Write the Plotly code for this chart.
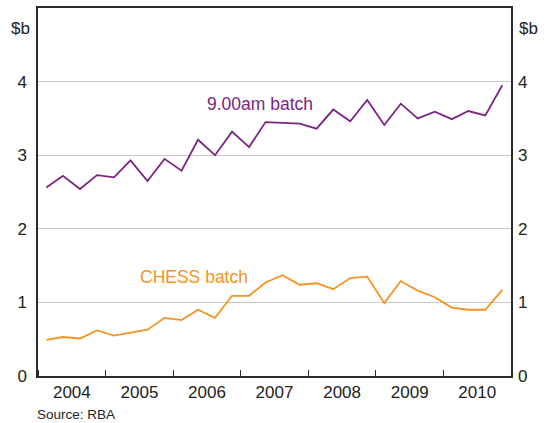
"""RBA chart: 9.00am batch vs CHESS batch settlement values."""
import plotly.graph_objects as go

PURPLE = "#7b2582"
ORANGE = "#f7931e"
FONT = "Liberation Sans, Arial, sans-serif"

# quarterly observations, plotted at mid-quarter
quarters = [
    "2004-02-15", "2004-05-15", "2004-08-15", "2004-11-15",
    "2005-02-15", "2005-05-15", "2005-08-15", "2005-11-15",
    "2006-02-15", "2006-05-15", "2006-08-15", "2006-11-15",
    "2007-02-15", "2007-05-15", "2007-08-15", "2007-11-15",
    "2008-02-15", "2008-05-15", "2008-08-15", "2008-11-15",
    "2009-02-15", "2009-05-15", "2009-08-15", "2009-11-15",
    "2010-02-15", "2010-05-15", "2010-08-15", "2010-11-15",
]
batch_9am = [
    2.56, 2.72, 2.54, 2.73, 2.70, 2.93, 2.65, 2.95, 2.79, 3.21,
    3.00, 3.32, 3.11, 3.45, 3.44, 3.43, 3.36, 3.62, 3.46, 3.75,
    3.41, 3.70, 3.50, 3.59, 3.49, 3.60, 3.54, 3.95,
]
chess_batch = [
    0.49, 0.53, 0.51, 0.62, 0.55, 0.59, 0.63, 0.79, 0.76, 0.90,
    0.79, 1.09, 1.09, 1.27, 1.37, 1.24, 1.26, 1.18, 1.33, 1.35,
    0.99, 1.29, 1.16, 1.07, 0.93, 0.90, 0.90, 1.17,
]
y_ticks = [0, 1, 2, 3, 4]

fig = go.Figure()
fig.add_trace(go.Scatter(x=quarters, y=batch_9am, mode="lines",
                         line=dict(color=PURPLE, width=1.8), showlegend=False))
fig.add_trace(go.Scatter(x=quarters, y=chess_batch, mode="lines",
                         line=dict(color=ORANGE, width=1.8), showlegend=False))
# invisible trace to carry the right-hand axis
fig.add_trace(go.Scatter(x=[quarters[0]], y=[0], yaxis="y2", mode="markers",
                         marker=dict(opacity=0), showlegend=False, hoverinfo="skip"))

axis_line = dict(showline=True, linecolor="#2b2b2b", linewidth=1.5)
fig.update_layout(
    width=548, height=423,
    margin=dict(l=38, r=37, t=8, b=47),
    plot_bgcolor="white", paper_bgcolor="white",
    font=dict(family=FONT, size=17, color="#222"),
    xaxis=dict(
        type="date", range=["2004-01-01", "2011-01-01"],
        tick0="2004-01-01", dtick="M12", ticklabelmode="period", tickformat="%Y",
        ticks="inside", ticklen=6, tickcolor="#2b2b2b", tickwidth=1,
        showgrid=False, mirror=True, automargin=False, **axis_line,
    ),
    yaxis=dict(
        range=[0, 5], tickvals=y_ticks, ticks="", showgrid=True,
        gridcolor="#c8c8c8", gridwidth=1, zeroline=False, automargin=False,
        mirror=True, ticklabelstandoff=6, **axis_line,
    ),
    yaxis2=dict(
        range=[0, 5], tickvals=y_ticks, overlaying="y", side="right",
        showgrid=False, zeroline=False, ticks="", ticklabelstandoff=6,
        automargin=False,
    ),
    annotations=[
        dict(text="9.00am batch", x="2007-04-15", y=3.70, xref="x", yref="y",
             showarrow=False, xanchor="center", font=dict(color=PURPLE, size=17.5)),
        dict(text="CHESS batch", x="2006-04-22", y=1.35, xref="x", yref="y",
             showarrow=False, xanchor="center", font=dict(color=ORANGE, size=17.5)),
        dict(text="$b", x=0, y=0.975, xref="paper", yref="paper",
             xanchor="right", xshift=-6, showarrow=False),
        dict(text="$b", x=1, y=0.975, xref="paper", yref="paper",
             xanchor="left", xshift=6, showarrow=False),
        dict(text="Source: RBA", x=0, y=-0.08, xref="paper", yref="paper",
             xanchor="left", yanchor="top", xshift=-3, showarrow=False,
             font=dict(size=13.5)),
    ],
)

# the page's default body margin would shift the figure by 8px
fig.write_html("out.html", config={"displayModeBar": False},
               post_script="document.body.style.margin = '0';")
